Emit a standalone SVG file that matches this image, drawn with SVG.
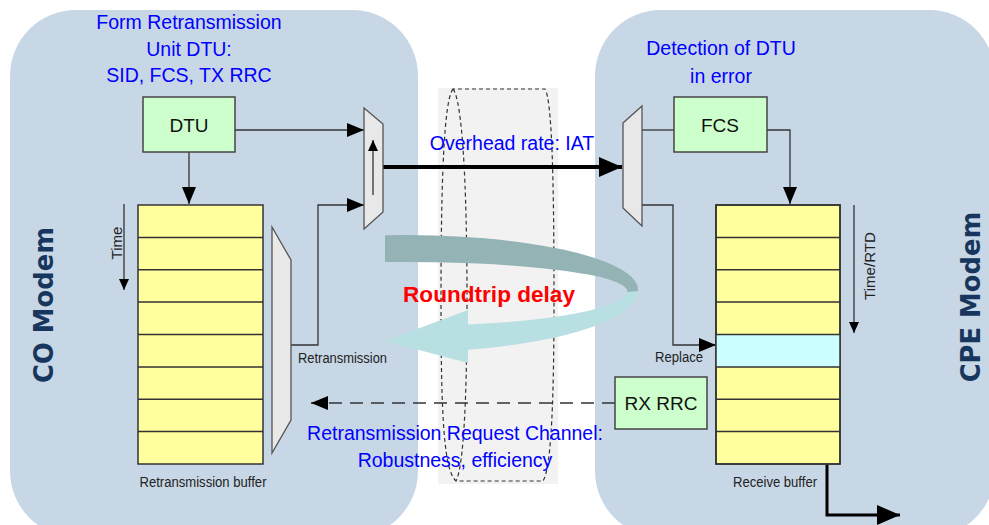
<svg xmlns="http://www.w3.org/2000/svg" width="989" height="525" viewBox="0 0 989 525">
<defs>
<style>
.panel{fill:#c8d7e5;}
.box{fill:#ccffcc;stroke:#444;stroke-width:1.5;}
.buf{fill:#ffff9e;stroke:#333;stroke-width:1.5;}
.row{stroke:#333;stroke-width:1.5;fill:none;}
.mux{fill:#e8e8e8;stroke:#555;stroke-width:1.3;}
.ln{fill:none;stroke:#333;stroke-width:1.3;}
.blue{font-family:"Liberation Sans",Arial,sans-serif;font-size:19.5px;fill:#0000ff;text-anchor:middle;}
.lbl{font-family:"Liberation Sans",Arial,sans-serif;font-size:19px;fill:#111;text-anchor:middle;}
.small{font-family:"Liberation Sans",Arial,sans-serif;font-size:14px;fill:#222;}
.modem{font-family:"DejaVu Sans",sans-serif;font-size:25.8px;font-weight:bold;fill:#17365d;text-anchor:middle;}
.cyl{fill:none;stroke:#333;stroke-width:1.2;stroke-dasharray:4 3;}
</style>
<marker id="ah" markerUnits="userSpaceOnUse" markerWidth="18" markerHeight="14" refX="17" refY="7" orient="auto">
<path d="M0,0 L17,7 L0,14 z" fill="#000"/>
</marker>
<marker id="ahs" markerUnits="userSpaceOnUse" markerWidth="12" markerHeight="10" refX="11" refY="5" orient="auto">
<path d="M0,0 L11,5 L0,10 z" fill="#000"/>
</marker>
<marker id="ahb" markerUnits="userSpaceOnUse" markerWidth="24" markerHeight="20" refX="23" refY="10" orient="auto">
<path d="M0,0 L23,10 L0,20 z" fill="#000"/>
</marker>
</defs>
<rect width="989" height="525" fill="#ffffff"/>

<g id="co-panel">
<rect class="panel" x="10" y="10" width="408" height="527" rx="66" ry="66"/>
<text class="modem" transform="translate(53,305) rotate(-90)">CO Modem</text>
</g>
<g id="cpe-panel">
<rect class="panel" x="595" y="10" width="400" height="527" rx="66" ry="66"/>
<text class="modem" transform="translate(980,297) rotate(-90)">CPE Modem</text>
</g>

<g id="channel">
<rect x="438" y="88" width="120" height="396" fill="#f2f2f2"/>
<path class="cyl" d="M453,89 C444,100 441,180 441,300 C441,420 444,470 456,481 L543,481 C550,470 554,420 554,300 C554,180 552,100 545,89 Z"/>
<path class="cyl" d="M453,89 C462,100 467,180 467,300 C467,420 462,470 456,481"/>
</g>

<g id="roundtrip">
<path fill="#b8dfe1" d="M638,290 A233,62 0 0 1 468,349.7 L468,363 L385,341 L468,310 L468,324.6 A222,35 0 0 0 627,291 Z"/>
<path fill="#93b3b5" d="M385,235.2 A233,55 0 0 1 638,291 L627,292 A222,29 0 0 0 385,262.1 Z"/>
<text x="489" y="302" font-family="'Liberation Sans',Arial,sans-serif" font-size="22.6px" font-weight="bold" fill="#ff0000" text-anchor="middle">Roundtrip delay</text>
</g>

<g id="title-left">
<text class="blue" x="189" y="29">Form Retransmission</text>
<text class="blue" x="189" y="56">Unit DTU:</text>
<text class="blue" x="189" y="82">SID, FCS, TX RRC</text>
</g>
<g id="title-right">
<text class="blue" x="721" y="55">Detection of DTU</text>
<text class="blue" x="721" y="83">in error</text>
</g>

<g id="connectors">
<line class="ln" x1="235" y1="130" x2="364" y2="130" marker-end="url(#ah)"/>
<line class="ln" x1="189" y1="152" x2="189" y2="204" marker-end="url(#ah)"/>
<polyline class="ln" points="291,345 318,345 318,205 364,205" marker-end="url(#ah)"/>
<line x1="383" y1="167" x2="622" y2="167" stroke="#000" stroke-width="4" marker-end="url(#ahb)"/>
<line class="ln" x1="642" y1="130" x2="674" y2="130"/>
<polyline class="ln" points="767,130 790,130 790,204" marker-end="url(#ah)"/>
<polyline class="ln" points="642,205 673,205 673,345 716,345" marker-end="url(#ah)"/>
<line x1="615" y1="403" x2="311" y2="403" stroke="#333" stroke-width="1.3" stroke-dasharray="13 8" marker-end="url(#ah)"/>
<polyline points="827,464 827,515 900,515" fill="none" stroke="#000" stroke-width="3" marker-end="url(#ahb)"/>
<line class="ln" x1="124" y1="204" x2="124" y2="290" marker-end="url(#ahs)"/>
<line class="ln" x1="854" y1="205" x2="854" y2="333" marker-end="url(#ahs)"/>
</g>

<g id="dtu">
<rect class="box" x="143" y="97" width="92" height="55"/>
<text class="lbl" x="189" y="132">DTU</text>
</g>
<g id="fcs">
<rect class="box" x="674" y="97" width="93" height="55"/>
<text class="lbl" x="720" y="132">FCS</text>
</g>
<g id="rx-rrc">
<rect class="box" x="615" y="377" width="92" height="52"/>
<text class="lbl" x="661" y="410">RX RRC</text>
</g>

<g id="mux-left">
<polygon class="mux" points="364,108 383,124 383,212 364,229"/>
<line class="ln" x1="373" y1="195" x2="373" y2="140" marker-end="url(#ahs)"/>
</g>
<g id="mux-right">
<polygon class="mux" points="623,123 642,106 642,226 623,208"/>
</g>
<g id="retx-mux">
<polygon class="mux" points="272,227 291,260 291,420 272,453"/>
</g>

<g id="retx-buffer">
<rect class="buf" x="138" y="205" width="125" height="259"/>
<path class="row" d="M138,237.4H263M138,269.8H263M138,302.1H263M138,334.5H263M138,366.9H263M138,399.2H263M138,431.6H263"/>
<text class="small" x="203" y="487" text-anchor="middle" textLength="127" lengthAdjust="spacingAndGlyphs">Retransmission buffer</text>
</g>
<g id="receive-buffer">
<rect class="buf" x="716" y="205" width="124" height="259"/>
<rect x="716" y="334.5" width="124" height="32.4" fill="#ccffff"/>
<path class="row" d="M716,237.4H840M716,269.8H840M716,302.1H840M716,334.5H840M716,366.9H840M716,399.2H840M716,431.6H840"/>
<rect x="716" y="205" width="124" height="259" fill="none" stroke="#333" stroke-width="1.5"/>
<text class="small" x="775" y="487" text-anchor="middle" textLength="84" lengthAdjust="spacingAndGlyphs">Receive buffer</text>
</g>

<g id="labels">
<text class="blue" x="512" y="150">Overhead rate: IAT</text>
<text class="blue" x="455" y="440">Retransmission Request Channel:</text>
<text class="blue" x="455" y="467">Robustness, efficiency</text>
<text class="small" x="298" y="363" textLength="89" lengthAdjust="spacingAndGlyphs">Retransmission</text>
<text class="small" x="679" y="362" text-anchor="middle" textLength="48" lengthAdjust="spacingAndGlyphs">Replace</text>
<text class="small" transform="translate(122,243) rotate(-90)" text-anchor="middle" textLength="33" lengthAdjust="spacingAndGlyphs">Time</text>
<text class="small" transform="translate(875,266) rotate(-90)" text-anchor="middle" textLength="68" lengthAdjust="spacingAndGlyphs">Time/RTD</text>
</g>
</svg>
